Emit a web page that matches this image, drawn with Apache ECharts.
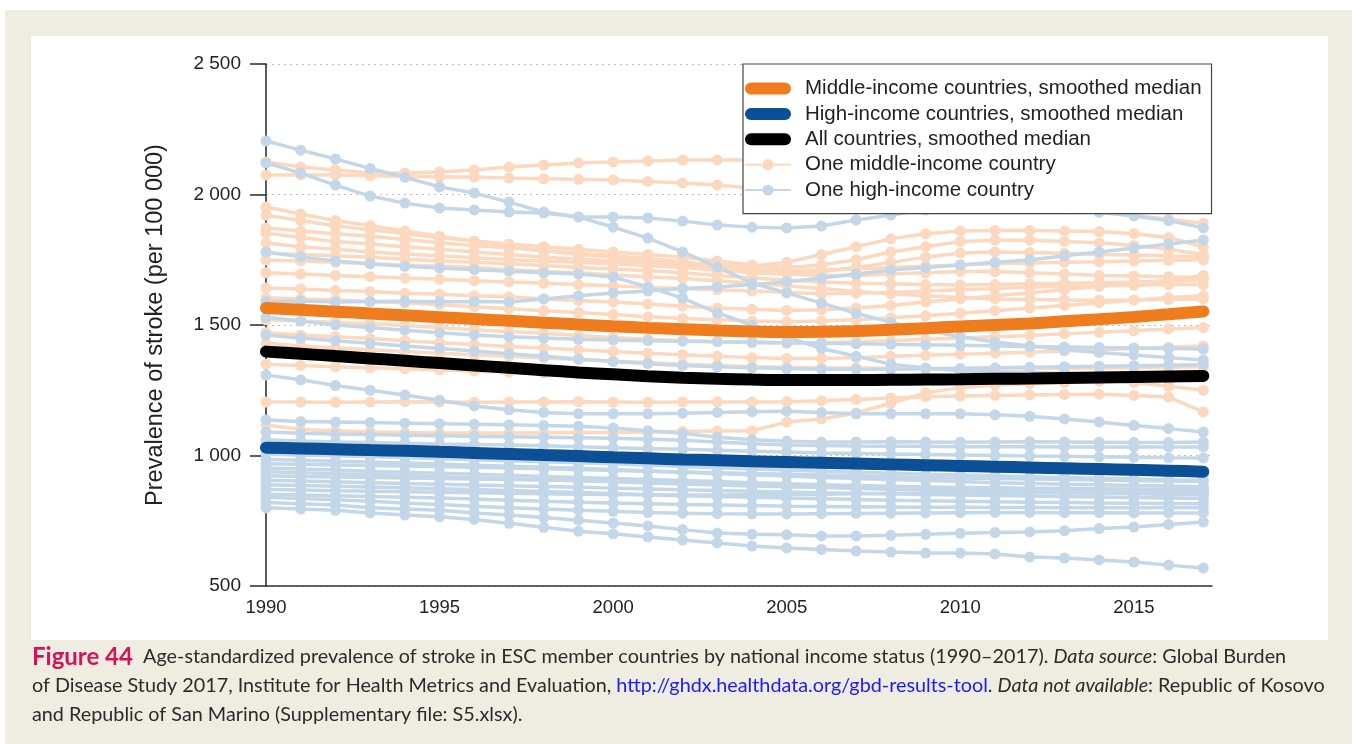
<!DOCTYPE html>
<html>
<head>
<meta charset="utf-8">
<script src="https://cdn.jsdelivr.net/npm/echarts@6.0.0/dist/echarts.min.js"></script>
<style>
html, body { margin: 0; padding: 0; background: #fff; }
#chart { width: 1352px; height: 744px; }
</style>
</head>
<body>
<div id="chart"></div>
<script>
// years on the x axis
var years = [1990,1991,1992,1993,1994,1995,1996,1997,1998,1999,2000,2001,2002,2003,
             2004,2005,2006,2007,2008,2009,2010,2011,2012,2013,2014,2015,2016,2017];
var yTicks = [500, 1000, 1500, 2000, 2500];

// smoothed medians
var medianMiddle = [1565,1558,1551,1544,1537,1530,1523,1516,1509,1502,1495,1489,1484,1479,
                    1475,1473,1474,1477,1482,1488,1494,1500,1506,1514,1522,1531,1541,1552];
var medianHigh   = [1030,1027,1024,1021,1018,1014,1010,1006,1002,998,993,989,985,982,
                    978,975,972,969,966,963,960,957,954,951,948,945,942,938];
var medianAll    = [1398,1390,1381,1372,1363,1354,1345,1336,1327,1318,1311,1304,1298,1294,
                    1291,1289,1289,1289,1290,1291,1292,1294,1295,1297,1299,1301,1303,1305];

// one line per middle-income country
var mid01 = [2125,2105,2094,2082,2082,2086,2094,2105,2113,2121,2125,2128,2132,2132,2132,2130,2128,2125,2120,2115,2110,2105,2100,2090,2080,2070,2060,2050];
var mid02 = [2075,2075,2075,2072,2070,2067,2067,2063,2060,2058,2056,2050,2044,2036,2025,2010,2000,1990,1980,1975,1970,1965,1955,1945,1935,1920,1905,1890];
var mid03 = [1952,1925,1900,1880,1860,1840,1820,1800,1785,1770,1760,1750,1740,1730,1725,1740,1770,1800,1830,1850,1860,1862,1862,1860,1858,1850,1835,1800];
var mid04 = [1921,1900,1880,1865,1850,1835,1822,1810,1800,1790,1780,1770,1760,1745,1730,1720,1730,1750,1780,1800,1820,1825,1825,1820,1815,1805,1790,1770];
var mid05 = [1872,1860,1850,1840,1828,1815,1805,1795,1785,1775,1765,1755,1742,1725,1710,1700,1705,1720,1740,1760,1776,1780,1778,1775,1770,1768,1765,1760];
var mid06 = [1852,1835,1820,1810,1800,1790,1780,1770,1760,1752,1745,1738,1730,1722,1715,1710,1712,1715,1720,1725,1730,1735,1738,1740,1742,1745,1748,1750];
var mid07 = [1814,1800,1790,1780,1772,1765,1758,1750,1745,1740,1735,1728,1720,1710,1700,1695,1690,1690,1695,1700,1705,1705,1700,1695,1690,1688,1685,1680];
var mid08 = [1776,1770,1765,1760,1752,1745,1740,1735,1728,1720,1715,1708,1700,1690,1680,1672,1665,1660,1658,1655,1653,1655,1658,1660,1662,1665,1668,1672];
var mid09 = [1749,1745,1740,1735,1730,1725,1720,1712,1705,1700,1692,1685,1678,1670,1660,1650,1640,1628,1620,1612,1605,1600,1598,1596,1595,1596,1598,1600];
var mid10 = [1700,1695,1690,1685,1680,1675,1670,1665,1660,1655,1650,1645,1640,1635,1630,1625,1620,1622,1625,1630,1635,1640,1645,1648,1650,1652,1655,1655];
var mid11 = [1642,1638,1632,1628,1622,1618,1612,1608,1600,1594,1588,1580,1572,1565,1560,1556,1558,1565,1575,1588,1600,1612,1624,1636,1648,1660,1672,1690];
var mid12 = [1604,1600,1596,1590,1585,1578,1570,1562,1555,1548,1540,1532,1525,1520,1515,1512,1515,1520,1528,1535,1545,1555,1565,1575,1585,1595,1605,1612];
var mid13 = [1520,1515,1510,1505,1498,1490,1482,1475,1468,1460,1452,1445,1440,1436,1432,1430,1432,1436,1440,1445,1450,1455,1460,1466,1472,1478,1485,1490];
var mid14 = [1470,1462,1455,1448,1440,1432,1425,1418,1412,1405,1398,1392,1386,1380,1375,1372,1372,1375,1380,1384,1388,1392,1396,1400,1405,1410,1415,1420];
var mid15 = [1430,1420,1412,1405,1398,1392,1386,1380,1374,1368,1362,1356,1350,1345,1340,1338,1336,1335,1334,1333,1332,1332,1333,1334,1335,1336,1338,1340];
var mid16 = [1350,1345,1340,1336,1332,1328,1324,1320,1316,1312,1308,1304,1300,1298,1296,1295,1295,1296,1297,1298,1300,1302,1300,1295,1290,1280,1265,1250];
var mid17 = [1205,1205,1204,1205,1206,1205,1204,1205,1205,1206,1205,1204,1205,1205,1205,1206,1210,1215,1220,1225,1228,1230,1232,1234,1235,1230,1224,1167];
var mid18 = [1117,1100,1095,1090,1088,1086,1086,1086,1086,1088,1088,1090,1092,1094,1095,1128,1140,1163,1200,1240,1260,1270,1275,1280,1285,1290,1295,1300];

// one line per high-income country
var high01 = [2205,2170,2136,2100,2066,2029,2006,1971,1933,1914,1875,1833,1780,1722,1661,1623,1584,1545,1510,1480,1455,1435,1420,1405,1395,1385,1375,1366];
var high02 = [2121,2082,2036,1994,1967,1948,1941,1933,1929,1914,1914,1910,1898,1883,1875,1872,1879,1902,1921,1941,1955,1960,1955,1945,1932,1918,1900,1872];
var high03 = [1780,1761,1745,1735,1725,1718,1712,1706,1700,1695,1684,1646,1603,1546,1500,1454,1410,1380,1350,1335,1325,1320,1318,1315,1312,1310,1308,1305];
var high04 = [1530,1515,1500,1490,1480,1470,1462,1455,1450,1445,1442,1440,1438,1436,1435,1432,1430,1428,1426,1424,1422,1420,1418,1416,1414,1412,1410,1408];
var high05 = [1462,1450,1440,1430,1420,1410,1400,1390,1380,1370,1360,1352,1345,1340,1336,1333,1330,1330,1330,1332,1334,1336,1338,1340,1342,1344,1346,1348];
var high06 = [1308,1290,1268,1250,1232,1212,1190,1175,1165,1160,1160,1160,1162,1165,1168,1170,1165,1160,1160,1160,1160,1156,1150,1140,1128,1115,1103,1090];
var high07 = [1136,1130,1128,1126,1124,1122,1120,1118,1115,1112,1105,1095,1085,1070,1060,1055,1052,1052,1053,1052,1051,1052,1053,1052,1051,1050,1050,1052];
var high08 = [1590,1592,1588,1590,1591,1589,1590,1588,1600,1612,1623,1630,1640,1646,1655,1665,1680,1695,1711,1720,1730,1740,1749,1765,1780,1795,1810,1826];
var high09 = [1090,1085,1082,1080,1078,1076,1074,1072,1070,1068,1066,1062,1058,1052,1045,1040,1038,1036,1035,1035,1034,1034,1034,1033,1033,1033,1033,1033];
var high10 = [1060,1056,1052,1050,1047,1044,1042,1040,1037,1034,1030,1027,1024,1020,1016,1013,1010,1008,1006,1004,1002,1000,998,997,995,993,991,990];
var high11 = [1030,1025,1021,1017,1013,1009,1005,1001,997,993,989,985,980,976,972,968,964,960,956,952,948,944,940,937,934,931,928,925];
var high12 = [1005,1002,999,996,992,988,984,980,976,972,968,963,958,953,948,944,940,936,932,928,925,922,919,916,913,910,907,905];
var high13 = [985,982,978,975,971,967,963,959,955,951,946,941,936,931,926,921,916,912,908,904,900,896,893,890,888,885,883,880];
var high14 = [968,966,964,962,960,958,955,952,949,946,943,940,937,934,931,928,925,922,919,916,914,912,910,908,906,904,902,900];
var high15 = [952,948,944,940,936,932,928,924,920,916,912,908,904,900,896,892,888,885,882,879,876,874,872,870,869,867,866,865];
var high16 = [938,934,930,927,923,919,915,911,907,903,899,895,891,887,883,880,877,874,871,868,865,862,859,857,855,853,851,850];
var high17 = [922,920,918,916,914,912,910,908,906,904,901,898,895,892,889,886,884,882,880,878,877,876,875,874,873,872,871,870];
var high18 = [905,902,899,896,893,890,887,884,881,878,875,872,869,866,863,860,857,855,853,851,849,847,845,843,841,839,837,835];
var high19 = [888,885,882,879,876,873,870,866,862,858,854,850,846,843,840,837,834,831,829,827,825,823,821,820,818,817,816,815];
var high20 = [870,868,865,863,861,859,857,855,853,852,851,850,849,849,850,851,852,853,854,855,856,857,858,858,857,856,855,853];
var high21 = [852,849,846,843,840,837,833,829,825,821,818,815,812,810,808,806,805,804,803,802,802,801,801,800,800,800,800,800];
var high22 = [840,835,830,825,818,812,806,800,795,790,786,782,779,777,776,776,777,778,779,780,781,782,782,781,781,780,780,780];
var high23 = [820,815,810,800,795,790,780,772,762,752,741,730,716,703,698,696,692,692,694,698,702,705,707,712,720,726,736,745];
var high24 = [800,795,790,780,772,765,755,740,725,710,700,688,676,665,653,646,640,634,630,626,626,623,611,607,600,592,580,569];

var middleCountries = [mid01,mid02,mid03,mid04,mid05,mid06,mid07,mid08,mid09,mid10,mid11,mid12,mid13,mid14,mid15,mid16,mid17,mid18];
var highCountries = [high01,high02,high03,high04,high05,high06,high07,high08,high09,high10,high11,high12,
                     high13,high14,high15,high16,high17,high18,high19,high20,high21,high22,high23,high24];

var lightOrange = '#fbd8be';
var lightBlue = '#c3d7e8';
var nameMid = 'One middle-income country';
var nameHigh = 'One high-income country';
var nameMedMid = 'Middle-income countries, smoothed median';
var nameMedHigh = 'High-income countries, smoothed median';
var nameMedAll = 'All countries, smoothed median';

function pairs(v) {
    return years.map(function (y, i) { return [y, v[i]]; });
}

var chart = echarts.init(document.getElementById('chart'));

var series = [];
middleCountries.forEach(function (v) {
    series.push({
        name: nameMid, type: 'line', data: pairs(v),
        symbol: 'circle', symbolSize: 11,
        itemStyle: { color: lightOrange },
        lineStyle: { color: lightOrange, width: 3.5 },
        silent: true, z: 2
    });
});
highCountries.forEach(function (v) {
    series.push({
        name: nameHigh, type: 'line', data: pairs(v),
        symbol: 'circle', symbolSize: 11,
        itemStyle: { color: lightBlue },
        lineStyle: { color: lightBlue, width: 3.5 },
        silent: true, z: 2
    });
});
[[nameMedMid, medianMiddle, '#ef7d1d'], [nameMedHigh, medianHigh, '#0b4f96'], [nameMedAll, medianAll, '#000000']].forEach(function (m) {
    series.push({
        name: m[0], type: 'line', data: pairs(m[1]), smooth: 0.3,
        symbol: 'none',
        itemStyle: { color: m[2] },
        lineStyle: { color: m[2], width: 12, cap: 'round' },
        silent: true, z: 5
    });
});

var pill = 'path://M6,0L40,0A6,6,0,0,1,40,12L6,12A6,6,0,0,1,6,0Z';
var capFont = 'Lato';
var capSize = 19.8;

var option = {
    backgroundColor: '#ffffff',
    animation: false,
    grid: { left: 266, right: 140, top: 64, bottom: 158 },
    legend: {
        orient: 'vertical', left: 743, top: 64,
        selectedMode: false,
        backgroundColor: '#fff',
        borderColor: '#444', borderWidth: 1.2,
        padding: [14, 10, 13, 1],
        itemWidth: 46, itemHeight: 14, itemGap: 4.4,
        textStyle: { fontFamily: 'Liberation Sans', fontSize: 20.5, color: '#222', lineHeight: 20, padding: [0, 0, 0, 9] },
        data: [
            { name: nameMedMid, icon: pill },
            { name: nameMedHigh, icon: pill },
            { name: nameMedAll, icon: pill },
            { name: nameMid },
            { name: nameHigh }
        ],
        z: 10
    },
    xAxis: {
        type: 'value', min: 1990, max: 2017.25, interval: 5,
        axisLine: { lineStyle: { color: '#333', width: 1.6 } },
        axisTick: { show: false },
        splitLine: { show: false },
        axisLabel: {
            showMaxLabel: false, margin: 12,
            fontFamily: 'Liberation Sans', fontSize: 18.5, color: '#222',
            formatter: function (v) { return String(v); }
        }
    },
    yAxis: {
        type: 'value', min: yTicks[0], max: yTicks[yTicks.length - 1], interval: 500,
        name: 'Prevalence of stroke (per 100 000)',
        nameLocation: 'middle', nameGap: 98, nameRotate: 90,
        nameTextStyle: { fontFamily: 'Liberation Sans', fontSize: 23.5, color: '#222' },
        axisLine: { show: true, lineStyle: { color: '#333', width: 1.6 } },
        axisTick: { show: true, length: 16, lineStyle: { color: '#333', width: 1.6 } },
        splitLine: { show: true, lineStyle: { color: '#bdbdbd', type: [2, 4], width: 1 } },
        axisLabel: {
            margin: 25, fontFamily: 'Liberation Sans', fontSize: 19, color: '#222',
            formatter: function (v) {
                var s = String(v);
                return s.length > 3 ? s.slice(0, s.length - 3) + ' ' + s.slice(-3) : s;
            }
        }
    },
    graphic: [
        { type: 'rect', z: -20, silent: true, shape: { x: 5, y: 10, width: 1347, height: 734 }, style: { fill: '#efece2' } },
        { type: 'rect', z: -19, silent: true, shape: { x: 31, y: 36, width: 1297, height: 604 }, style: { fill: '#ffffff' } },
        {
            type: 'text', x: 32, y: 657, silent: true,
            style: {
                text: '{fig|Figure 44}{t|  Age-standardized prevalence of stroke in ESC member countries by national income status (1990\u20132017). }{i|Data source}{t|: Global Burden}',
                verticalAlign: 'middle',
                rich: {
                    fig: { fontFamily: capFont, fontWeight: 'bold', fontSize: 24, fill: '#d4145a' },
                    t: { fontFamily: capFont, fontSize: capSize, fill: '#2b2b2b' },
                    i: { fontFamily: capFont, fontStyle: 'italic', fontSize: capSize, fill: '#2b2b2b' }
                }
            }
        },
        {
            type: 'text', x: 32, y: 686, silent: true,
            style: {
                text: '{t|of Disease Study 2017, Institute for Health Metrics and Evaluation, }{a|http://ghdx.healthdata.org/gbd-results-tool}{t|. }{i|Data not available}{t|: Republic of Kosovo}',
                verticalAlign: 'middle',
                rich: {
                    t: { fontFamily: capFont, fontSize: capSize, fill: '#2b2b2b' },
                    i: { fontFamily: capFont, fontStyle: 'italic', fontSize: capSize, fill: '#2b2b2b' },
                    a: { fontFamily: capFont, fontSize: capSize, fill: '#1a1aff' }
                }
            }
        },
        {
            type: 'text', x: 32, y: 715, silent: true,
            style: {
                text: '{t|and Republic of San Marino (Supplementary file: S5.xlsx).}',
                verticalAlign: 'middle',
                rich: {
                    t: { fontFamily: capFont, fontSize: capSize, fill: '#2b2b2b' }
                }
            }
        }
    ],
    series: series
};

chart.setOption(option);
</script>
</body>
</html>
